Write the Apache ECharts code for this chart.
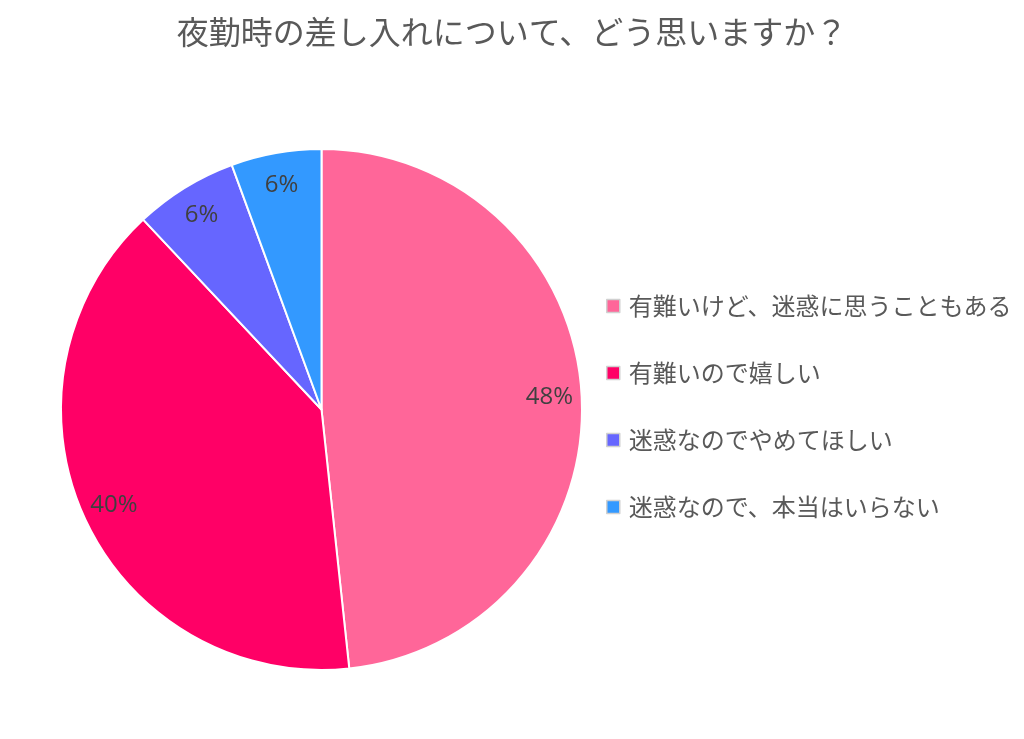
<!DOCTYPE html>
<html>
<head>
<meta charset="utf-8">
<script src="https://cdn.jsdelivr.net/npm/echarts@6/dist/echarts.min.js"></script>
<style>
html,body{margin:0;padding:0;background:#fff;}
#chart{width:1024px;height:739px;}
</style>
</head>
<body>
<div id="chart"></div>
<script>
const titleText = '夜勤時の差し入れについて、どう思いますか？';
const categories = ['有難いけど、迷惑に思うこともある', '有難いので嬉しい', '迷惑なのでやめてほしい', '迷惑なので、本当はいらない'];
const values = [48.3, 39.7, 6.4, 5.6];
const colors = ['#FF6699', '#FF0066', '#6666FF', '#3399FF'];

const cx = 321.5, cy = 409.5, R = 260.5;
const data = categories.map((c, i) => ({ name: c, value: values[i] }));

const chart = echarts.init(document.getElementById('chart'), null, { renderer: 'canvas' });
chart.setOption({
  backgroundColor: '#ffffff',
  color: colors,
  animation: false,
  title: {
    text: titleText,
    left: 'center',
    top: 11,
    textStyle: { fontFamily: 'Noto Sans CJK JP', fontSize: 32, fontWeight: 'normal', color: '#595959', lineHeight: 32 }
  },
  legend: {
    orient: 'vertical',
    left: 601,
    top: 289,
    data: categories,
    icon: 'rect',
    itemWidth: 13,
    itemHeight: 13,
    itemGap: 43,
    itemStyle: { borderColor: '#d0d0d0', borderWidth: 1.5 },
    textStyle: { fontFamily: 'Noto Sans CJK JP', fontSize: 24, color: '#595959', lineHeight: 24, padding: [0, 0, 0, 4] }
  },
  series: [
    {
      type: 'pie',
      center: [cx, cy],
      radius: [0, R],
      startAngle: 90,
      clockwise: true,
      silent: true,
      data: data,
      label: { show: false },
      labelLine: { show: false },
      itemStyle: { borderColor: '#ffffff', borderWidth: 2 },
      z: 2
    },
    {
      type: 'pie',
      center: [cx, cy],
      radius: [R * 0.73, R],
      startAngle: 90,
      clockwise: true,
      silent: true,
      legendHoverLink: false,
      data: data,
      itemStyle: { color: 'rgba(0,0,0,0)', borderWidth: 0 },
      label: {
        show: true,
        position: 'inside',
        formatter: p => Math.round(p.value) + '%',
        fontFamily: 'Open Sans',
        fontSize: 24,
        color: '#404040'
      },
      labelLine: { show: false },
      z: 3
    }
  ]
});
</script>
</body>
</html>
